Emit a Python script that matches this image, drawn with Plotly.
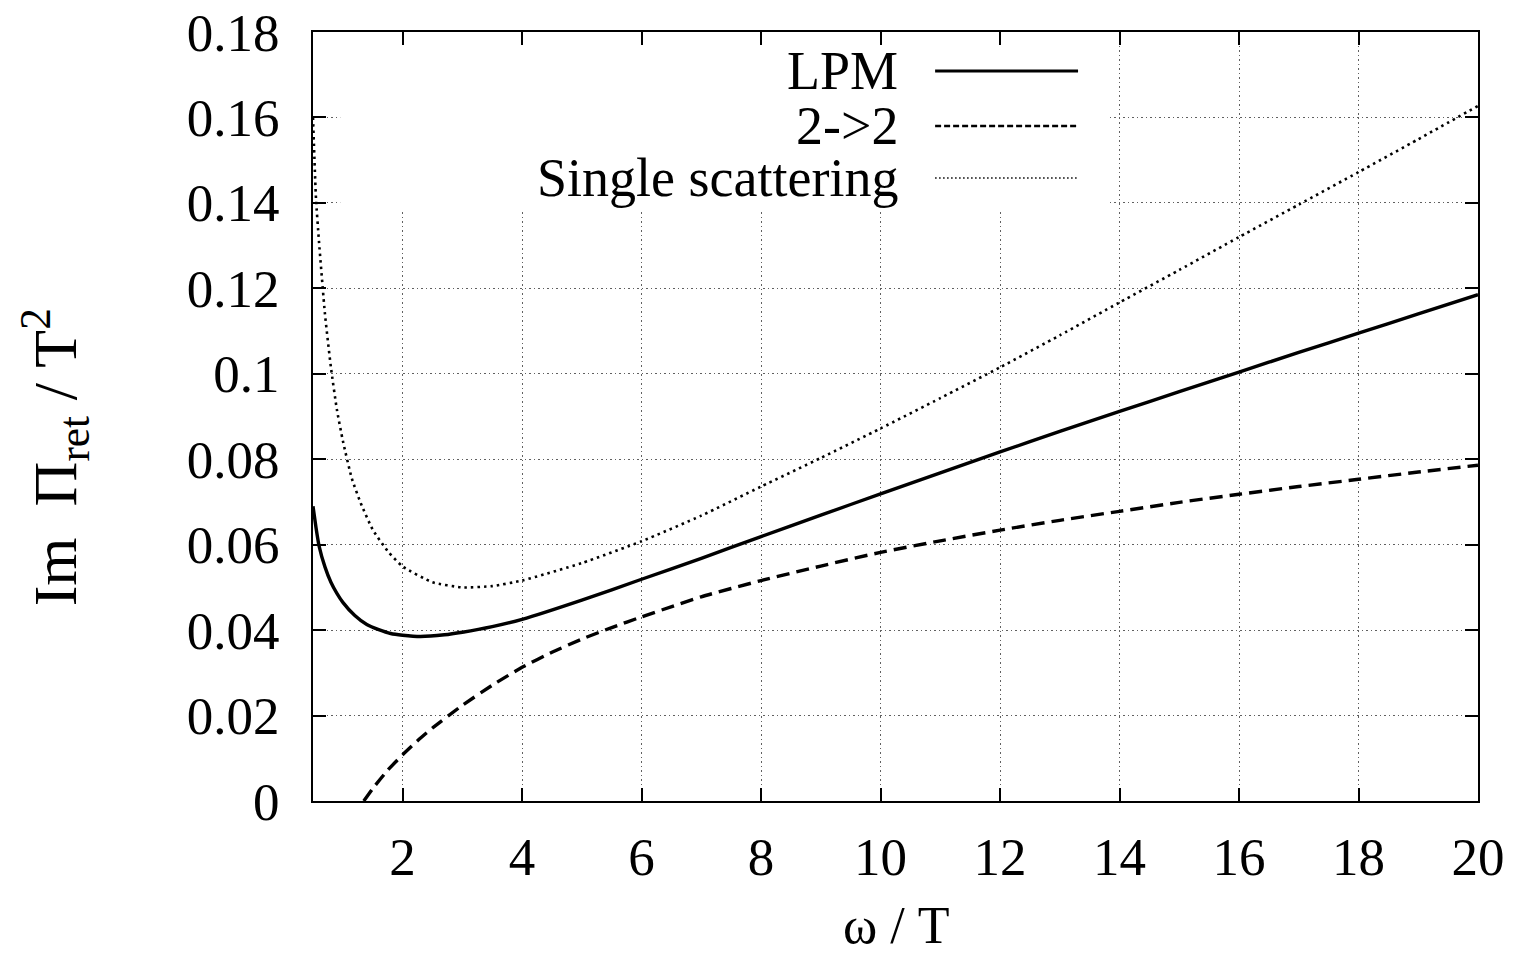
import plotly.graph_objects as go

# ---- data ----
lpm_x = [0.5, 0.55, 0.6, 0.7, 0.8, 0.9, 1.0, 1.2, 1.4, 1.6, 1.8, 2.0, 2.3, 2.7, 3.0, 3.5, 4.0,
         5.0, 6.0, 7.0, 8.0, 9.0, 10.0, 11.0, 12.0, 13.0, 14.0, 15.0, 16.0, 17.0, 18.0, 19.0, 20.0]
lpm_y = [0.0690, 0.0640, 0.0598, 0.0548, 0.0512, 0.0486, 0.0465, 0.0434, 0.0413, 0.0401, 0.0392,
         0.0388, 0.0385, 0.0389, 0.0395, 0.0408, 0.0425, 0.0470, 0.0519, 0.0568, 0.0619, 0.0669,
         0.0719, 0.0768, 0.0817, 0.0865, 0.0912, 0.0958, 0.1004, 0.1050, 0.1095, 0.1140, 0.1185]

two_x = [1.35, 1.5, 1.75, 2.0, 2.25, 2.5, 3.0, 3.5, 4.0, 4.5, 5.0, 5.5, 6.0, 7.0, 8.0, 9.0, 10.0,
         11.0, 12.0, 13.0, 14.0, 15.0, 16.0, 17.0, 18.0, 19.0, 20.0]
two_y = [0.0000, 0.0029, 0.0072, 0.0108, 0.0141, 0.0171, 0.0224, 0.0271, 0.0313, 0.0348, 0.0379,
         0.0406, 0.0431, 0.0478, 0.0516, 0.0550, 0.0582, 0.0609, 0.0634, 0.0657, 0.0678, 0.0699,
         0.0718, 0.0736, 0.0753, 0.0770, 0.0786]

ss_x = [0.5, 0.55, 0.6, 0.7, 0.8, 0.9, 1.0, 1.15, 1.3, 1.5, 1.75, 2.0, 2.5, 3.0, 3.5, 4.0, 5.0,
        6.0, 7.0, 8.0, 9.0, 10.0, 11.0, 12.0, 13.0, 14.0, 15.0, 16.0, 17.0, 18.0, 19.0, 20.0]
ss_y = [0.1600, 0.1410, 0.1310, 0.1140, 0.1015, 0.0916, 0.0843, 0.0755, 0.0697, 0.0635, 0.0585,
        0.0549, 0.0512, 0.0500, 0.0503, 0.0516, 0.0557, 0.0608, 0.0668, 0.0736, 0.0803, 0.0872,
        0.0943, 0.1015, 0.1090, 0.1167, 0.1243, 0.1320, 0.1396, 0.1472, 0.1549, 0.1627]

series_names = ["LPM", "2->2", "Single scattering"]

x_tickvals = [2, 4, 6, 8, 10, 12, 14, 16, 18, 20]
x_ticktext = ["2", "4", "6", "8", "10", "12", "14", "16", "18", "20"]
y_tickvals = [0, 0.02, 0.04, 0.06, 0.08, 0.10, 0.12, 0.14, 0.16, 0.18]
y_ticktext = ["0", "0.02", "0.04", "0.06", "0.08", "0.1", "0.12", "0.14", "0.16", "0.18"]

FONT = "Liberation Serif, Times New Roman, serif"
FS = 53

fig = go.Figure()
fig.add_trace(go.Scatter(x=lpm_x, y=lpm_y, mode="lines", name=series_names[0],
                         line=dict(color="black", width=3.4, shape="spline", smoothing=0.5)))
fig.add_trace(go.Scatter(x=two_x, y=two_y, mode="lines", name=series_names[1],
                         line=dict(color="black", width=3.4, dash="13px,7px", shape="spline", smoothing=0.5)))
fig.add_trace(go.Scatter(x=ss_x, y=ss_y, mode="lines", name=series_names[2],
                         line=dict(color="black", width=2.6, dash="2.5px,4px", shape="spline", smoothing=0.5)))

# opaque key box (hides the grid behind the key, like gnuplot)
fig.add_shape(type="rect", xref="x", yref="y", x0=0.956, x1=13.83, y0=0.1382, y1=0.18,
              fillcolor="white", line=dict(width=0), layer="between")

# key: text right-aligned, sample line to the right
key_rows_y = [0.9493, 0.8778, 0.8101]
key_dash = ["solid", "6px,3px", "1.5px,2.5px"]
key_width = [3, 2.6, 1.6]
for name, ky, kd, kw in zip(series_names, key_rows_y, key_dash, key_width):
    fig.add_annotation(x=0.504, y=ky, xref="paper", yref="paper", text=name, showarrow=False,
                       xanchor="right", yanchor="middle",
                       font=dict(family=FONT, size=54, color="black"))
    fig.add_shape(type="line", xref="paper", yref="paper", x0=0.534, x1=0.6567, y0=ky, y1=ky,
                  line=dict(color="black", width=kw, dash=kd))

# axis titles
fig.add_annotation(x=-0.2223, y=0.447, xref="paper", yref="paper",
                   text="Im\u00a0\u00a0\u03a0<sub>ret</sub>\u00a0/\u00a0T<sup>2</sup>",
                   textangle=-90, showarrow=False,
                   xanchor="center", yanchor="middle", font=dict(family=FONT, size=62, color="black"))
fig.add_annotation(x=0.5, y=-0.1625, xref="paper", yref="paper", text="\u03c9 / T",
                   showarrow=False, xanchor="center", yanchor="middle",
                   font=dict(family=FONT, size=52, color="black"))

axis_common = dict(showline=True, linecolor="black", linewidth=2, mirror="allticks",
                   ticks="inside", ticklen=13, tickwidth=2, tickcolor="black",
                   showgrid=True, gridcolor="#606060", gridwidth=1, griddash="1.5px,3px",
                   zeroline=False, ticklabeloverflow="allow",
                   tickfont=dict(family=FONT, size=FS, color="black"))

fig.update_xaxes(range=[0.5, 20], tickvals=x_tickvals, ticktext=x_ticktext,
                 ticklabelstandoff=8, **axis_common)
fig.update_yaxes(range=[0, 0.18], tickvals=y_tickvals, ticktext=y_ticktext,
                 ticklabelstandoff=21, **axis_common)

# page body has an 8px margin: size the figure so the plot lands where the reference has it
fig.update_layout(width=1513, height=943, showlegend=False,
                  margin=dict(l=305, r=43, t=24, b=150, autoexpand=False),
                  plot_bgcolor="white", paper_bgcolor="white",
                  font=dict(family=FONT, size=FS, color="black"))

fig.write_html("out.html")
